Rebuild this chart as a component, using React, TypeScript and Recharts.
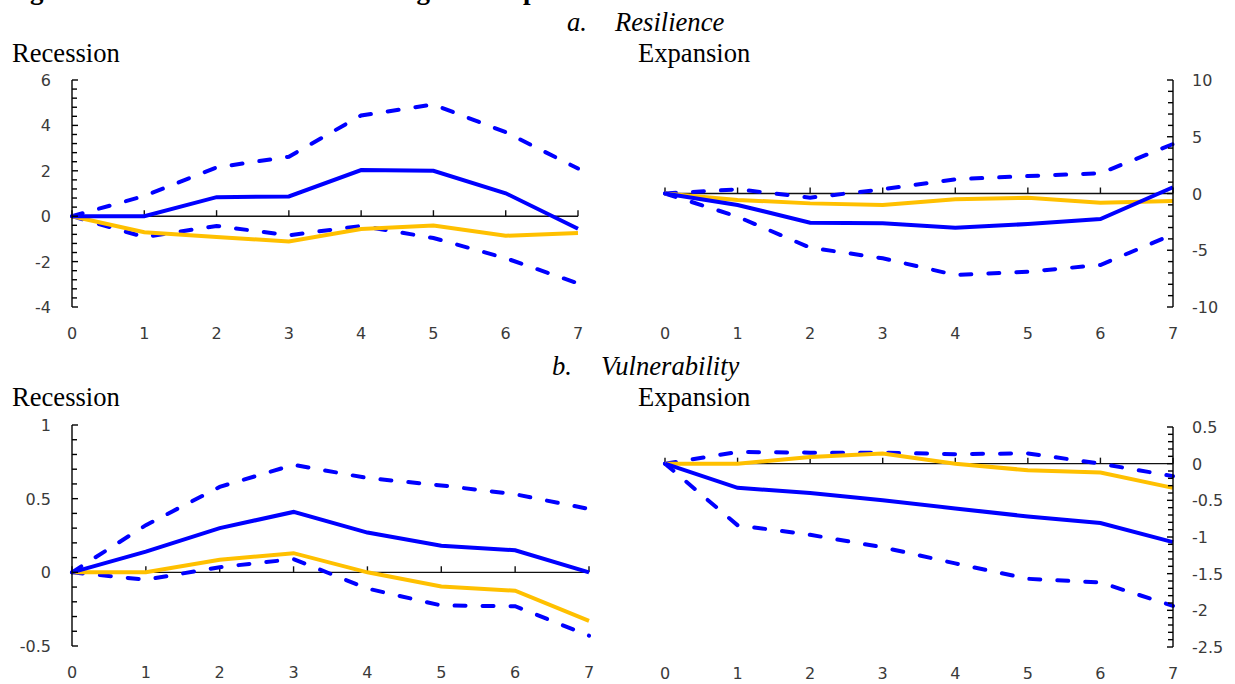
import React from 'react';
import { LineChart, Line, XAxis, YAxis, ReferenceLine } from 'recharts';

const horizons = [0, 1, 2, 3, 4, 5, 6, 7];

// a. Resilience — Recession
const resRecPoint = [0, 0, 0.84, 0.87, 2.03, 2.0, 1.01, -0.55];
const resRecUpper = [0, 0.89, 2.15, 2.62, 4.44, 4.92, 3.7, 2.1];
const resRecLower = [0, -0.92, -0.43, -0.84, -0.43, -0.96, -1.85, -2.96];
const resRecLinear = [0, -0.71, -0.92, -1.11, -0.56, -0.41, -0.86, -0.74];

// a. Resilience — Expansion
const resExpPoint = [0, -1.01, -2.57, -2.63, -3.01, -2.69, -2.25, 0.55];
const resExpUpper = [0, 0.37, -0.37, 0.37, 1.25, 1.54, 1.78, 4.36];
const resExpLower = [0, -2.04, -4.77, -5.71, -7.18, -6.89, -6.3, -3.6];
const resExpLinear = [0, -0.57, -0.87, -1.01, -0.51, -0.37, -0.81, -0.66];

// b. Vulnerability — Recession
const vulRecPoint = [0, 0.14, 0.3, 0.41, 0.27, 0.18, 0.15, 0];
const vulRecUpper = [0, 0.32, 0.58, 0.73, 0.64, 0.59, 0.53, 0.43];
const vulRecLower = [0, -0.05, 0.035, 0.09, -0.11, -0.225, -0.23, -0.43];
const vulRecLinear = [0, 0, 0.085, 0.13, 0, -0.096, -0.125, -0.33];

// b. Vulnerability — Expansion
const vulExpPoint = [0, -0.33, -0.4, -0.5, -0.61, -0.72, -0.81, -1.07];
const vulExpUpper = [0, 0.16, 0.15, 0.15, 0.13, 0.14, 0, -0.17];
const vulExpLower = [0, -0.84, -0.97, -1.14, -1.36, -1.57, -1.62, -1.94];
const vulExpLinear = [0, 0, 0.09, 0.14, 0, -0.09, -0.12, -0.33];

// y-axis tick labels
const resRecTicks = [-4, -2, 0, 2, 4, 6];
const resExpTicks = [-10, -5, 0, 5, 10];
const vulRecTicks = [-0.5, 0, 0.5, 1];
const vulExpTicks = [-2.5, -2, -1.5, -1, -0.5, 0, 0.5];

const W = 1235;
const H = 684;
const Y_W = 40;
const X_H = 40;
const BLUE = '#0000FF';
const GOLD = '#FFC000';
const TICK_FONT = 'DejaVu Sans';

function minorTicks(min: number, max: number, step: number) {
  const out: number[] = [];
  const n = Math.round((max - min) / step);
  for (let i = 0; i <= n; i++) out.push(Math.round((min + i * step) * 1000) / 1000);
  return out;
}

type Rect = { left: number; top: number; right: number; bottom: number };

type PanelProps = {
  point: number[];
  upper: number[];
  lower: number[];
  linear: number[];
  domain: [number, number];
  majors: number[];
  step: number;
  rect: Rect;
  side: 'left' | 'right';
};

function Panel(p: PanelProps) {
  const data = horizons.map((h, i) => ({
    h,
    point: p.point[i],
    upper: p.upper[i],
    lower: p.lower[i],
    linear: p.linear[i],
  }));
  const plotH = p.rect.bottom - p.rect.top;
  const tickH = ((p.domain[1] - p.domain[0]) * 6) / plotH;
  const margin =
    p.side === 'left'
      ? { top: p.rect.top, bottom: H - p.rect.bottom - X_H, left: p.rect.left - Y_W, right: W - p.rect.right }
      : { top: p.rect.top, bottom: H - p.rect.bottom - X_H, left: p.rect.left, right: W - p.rect.right - Y_W };
  const ticks = minorTicks(p.domain[0], p.domain[1], p.step);
  const isMajor = (v: number) => p.majors.some((m) => Math.abs(m - v) < 1e-6);

  const renderYTick = (props: any) => {
    const { x, y, payload } = props;
    const v = payload.value as number;
    const major = isMajor(v);
    const dir = p.side === 'left' ? 1 : -1;
    const len = major ? 6 : 5;
    return (
      <g key={`yt-${v}`}>
        <line x1={x} x2={x + dir * len} y1={y} y2={y} stroke="#000" strokeWidth={1.4} />
        {major && (
          <text
            x={p.side === 'left' ? x - 21 : x + 19}
            y={y + 6}
            textAnchor={p.side === 'left' ? 'end' : 'start'}
            fontFamily={TICK_FONT}
            fontSize={16}
            fill="#3a3a3a"
          >
            {String(v)}
          </text>
        )}
      </g>
    );
  };

  const renderXTick = (props: any) => {
    const { x, y, payload } = props;
    return (
      <text
        key={`xt-${payload.value}`}
        x={x}
        y={y + 32}
        textAnchor="middle"
        fontFamily={TICK_FONT}
        fontSize={16}
        fill="#3a3a3a"
      >
        {String(payload.value)}
      </text>
    );
  };

  const dashed = { stroke: BLUE, strokeWidth: 4, strokeDasharray: '11 17', strokeLinecap: 'round' as const };

  return (
    <div style={{ position: 'absolute', left: 0, top: 0 }}>
      <LineChart width={W} height={H} data={data} margin={margin}>
        <XAxis
          dataKey="h"
          type="number"
          domain={[0, 7]}
          ticks={horizons}
          interval={0}
          axisLine={false}
          tickLine={false}
          tickSize={0}
          tickMargin={0}
          height={X_H}
          tick={renderXTick}
        />
        <YAxis
          orientation={p.side}
          type="number"
          domain={p.domain}
          ticks={ticks}
          interval={0}
          width={Y_W}
          axisLine={{ stroke: '#000', strokeWidth: 1.4 }}
          tickLine={false}
          tickSize={0}
          tickMargin={0}
          tick={renderYTick}
          allowDataOverflow
        />
        <ReferenceLine y={0} stroke="#111" strokeWidth={1.4} />
        {horizons.map((h) => (
          <ReferenceLine
            key={`zt-${h}`}
            segment={[
              { x: h, y: 0 },
              { x: h, y: tickH },
            ]}
            stroke="#111"
            strokeWidth={1.4}
          />
        ))}
        <Line dataKey="upper" {...dashed} dot={false} activeDot={false} isAnimationActive={false} />
        <Line dataKey="lower" {...dashed} dot={false} activeDot={false} isAnimationActive={false} />
        <Line dataKey="linear" stroke={GOLD} strokeWidth={4} dot={false} activeDot={false} isAnimationActive={false} />
        <Line dataKey="point" stroke={BLUE} strokeWidth={4} dot={false} activeDot={false} isAnimationActive={false} />
      </LineChart>
    </div>
  );
}

const SERIF = '"Liberation Serif", "Times New Roman", serif';
const FS = 26.6;

export default function App() {
  return (
    <div style={{ position: 'absolute', left: 0, top: 0, width: W, height: H, background: '#fff', overflow: 'hidden' }}>
      <Panel
        point={resRecPoint}
        upper={resRecUpper}
        lower={resRecLower}
        linear={resRecLinear}
        domain={[-4, 6]}
        majors={resRecTicks}
        step={0.4}
        rect={{ left: 72, top: 80, right: 578, bottom: 307 }}
        side="left"
      />
      <Panel
        point={resExpPoint}
        upper={resExpUpper}
        lower={resExpLower}
        linear={resExpLinear}
        domain={[-10, 10]}
        majors={resExpTicks}
        step={1}
        rect={{ left: 665, top: 80, right: 1173, bottom: 307 }}
        side="right"
      />
      <Panel
        point={vulRecPoint}
        upper={vulRecUpper}
        lower={vulRecLower}
        linear={vulRecLinear}
        domain={[-0.5, 1]}
        majors={vulRecTicks}
        step={0.1}
        rect={{ left: 72, top: 425, right: 589, bottom: 646 }}
        side="left"
      />
      <Panel
        point={vulExpPoint}
        upper={vulExpUpper}
        lower={vulExpLower}
        linear={vulExpLinear}
        domain={[-2.5, 0.5]}
        majors={vulExpTicks}
        step={0.1}
        rect={{ left: 665, top: 427, right: 1173, bottom: 647 }}
        side="right"
      />
      <svg width={W} height={H} style={{ position: 'absolute', left: 0, top: 0, pointerEvents: 'none' }}>
        <text x={6} y={-1} fontFamily={SERIF} fontWeight="bold" fontSize={27} fill="#000">
          Figure 8. Resilience and Total Change in Output
        </text>
        <text x={567} y={31} fontFamily={SERIF} fontStyle="italic" fontSize={FS} fill="#000">a.</text>
        <text x={615} y={31} fontFamily={SERIF} fontStyle="italic" fontSize={FS} fill="#000">Resilience</text>
        <text x={12} y={62} fontFamily={SERIF} fontSize={FS} fill="#000">Recession</text>
        <text x={638} y={62} fontFamily={SERIF} fontSize={FS} fill="#000">Expansion</text>
        <text x={552} y={375} fontFamily={SERIF} fontStyle="italic" fontSize={FS} fill="#000">b.</text>
        <text x={601} y={375} fontFamily={SERIF} fontStyle="italic" fontSize={FS} fill="#000">Vulnerability</text>
        <text x={12} y={406} fontFamily={SERIF} fontSize={FS} fill="#000">Recession</text>
        <text x={638} y={406} fontFamily={SERIF} fontSize={FS} fill="#000">Expansion</text>
      </svg>
    </div>
  );
}
